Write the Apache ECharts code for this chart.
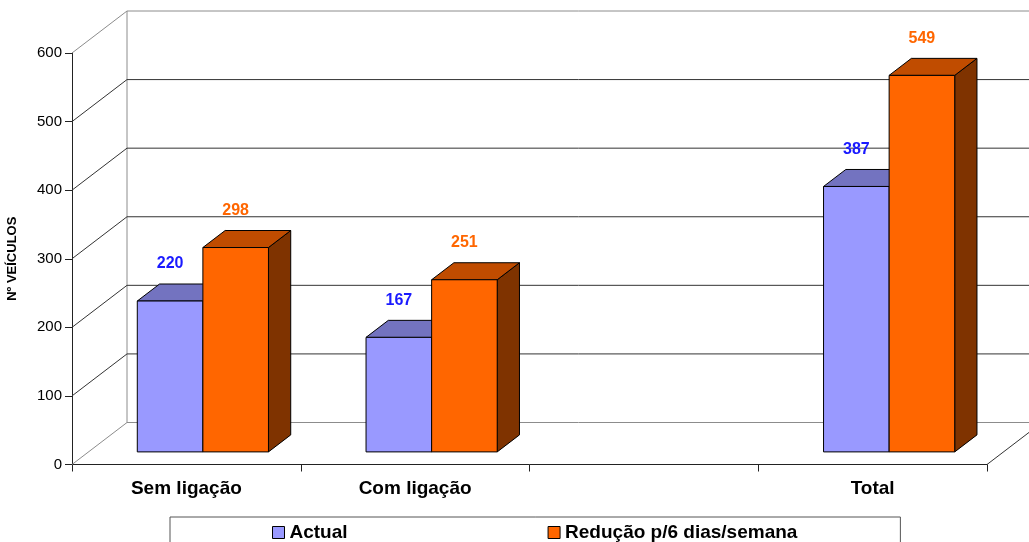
<!DOCTYPE html>
<html>
<head>
<meta charset="utf-8">
<script src="https://cdn.jsdelivr.net/npm/echarts@6/dist/echarts.min.js"></script>
<style>
  html, body { margin: 0; padding: 0; background: #fff; }
  #chart { width: 1029px; height: 542px; }
</style>
</head>
<body>
<div id="chart"></div>
<script>
// Vehicle counts per scenario
const categories = ['Sem ligação', 'Com ligação', '', 'Total'];
const actual = [220, 167, null, 387];
const reducao = [298, 251, null, 549];
const seriesNames = ['Actual', 'Redução p/6 dias/semana'];
const yTicks = [0, 100, 200, 300, 400, 500, 600];

const FONT = '"Liberation Sans", Arial, sans-serif';

// Oblique projection of the depth axis
const DX = 55, DY = -42;       // full depth of the plot box
const F0 = 0.3;                // where the bars' front faces sit
const FD = 0.405;              // bar depth
const BAR_FRAC = 0.2867;       // bar width as a share of the band

const faces = [
  { front: '#9999FF', top: '#7373C0', side: '#4D4D80', label: '#1A1AFF' },
  { front: '#FF6600', top: '#C04C00', side: '#7F3300', label: '#FF6600' }
];

function toPairs(values) {
  const out = [];
  values.forEach((v, i) => { if (v != null) out.push([i, v]); });
  return out;
}

// Back wall, side wall and floor outlines of the 3D box
function renderWalls(params, api) {
  const v = api.value(1);
  const cs = params.coordSys;
  const y = api.coord([0, v])[1];
  const x0 = cs.x, w = cs.width;
  const edge = (v === yTicks[0] || v === yTicks[yTicks.length - 1]);
  const stroke = edge ? '#8C8C8C' : '#333333';
  const children = [{
    type: 'polyline',
    shape: { points: [[x0, y], [x0 + DX, y + DY], [x0 + w + DX, y + DY]] },
    style: { stroke: stroke, lineWidth: 1, fill: null }
  }];
  if (v === yTicks[0]) {
    const yTop = api.coord([0, yTicks[yTicks.length - 1]])[1];
    children.push({
      type: 'polyline',
      shape: { points: [[x0 + w, y], [x0 + w + DX, y + DY]] },
      style: { stroke: '#333333', lineWidth: 1, fill: null }
    });
    children.push({
      type: 'polyline',
      shape: { points: [[x0 + DX, y + DY], [x0 + DX, yTop + DY]] },
      style: { stroke: '#8C8C8C', lineWidth: 1, fill: null }
    });
  }
  return { type: 'group', children: children, silent: true };
}

// 3D bar: front, top and side faces plus value label
function makeBarRenderer(k) {
  const c = faces[k];
  return function (params, api) {
    const i = api.value(0), v = api.value(1);
    const base = api.coord([i, 0]);
    const top = api.coord([i, v]);
    const band = api.size([1, 0])[0];
    const w = band * BAR_FRAC;
    const cx = base[0] + DX * F0;
    const x1 = k === 0 ? cx - w : cx;
    const x2 = x1 + w;
    const yb = base[1] + DY * F0;
    const yt = top[1] + DY * F0;
    const dx = DX * FD, dy = DY * FD;
    const line = { stroke: '#000', lineWidth: 1 };
    return {
      type: 'group',
      children: [
        { type: 'polygon', shape: { points: [[x2, yt], [x2 + dx, yt + dy], [x2 + dx, yb + dy], [x2, yb]] },
          style: Object.assign({ fill: c.side }, line) },
        { type: 'polygon', shape: { points: [[x1, yt], [x1 + dx, yt + dy], [x2 + dx, yt + dy], [x2, yt]] },
          style: Object.assign({ fill: c.top }, line) },
        { type: 'polygon', shape: { points: [[x1, yt], [x2, yt], [x2, yb], [x1, yb]] },
          style: Object.assign({ fill: c.front }, line) },
        { type: 'text', x: (x1 + x2) / 2, y: yt - 37,
          style: { text: String(v), fill: c.label, font: 'bold 16px ' + FONT,
                   align: 'center', verticalAlign: 'middle' } }
      ]
    };
  };
}

const chart = echarts.init(document.getElementById('chart'), null, { renderer: 'canvas' });

chart.setOption({
  animation: false,
  backgroundColor: '#ffffff',
  textStyle: { fontFamily: FONT },
  grid: { left: 72, right: 42, top: 53, bottom: 77.5, containLabel: false, outerBoundsMode: 'none' },
  legend: {
    data: seriesNames,
    left: 170,
    top: 517,
    orient: 'horizontal',
    icon: 'rect',
    itemWidth: 12,
    itemHeight: 12,
    itemGap: 200,
    padding: [6, 103, 30, 102],
    borderColor: '#555',
    borderWidth: 1,
    itemStyle: { borderColor: '#000', borderWidth: 1 },
    textStyle: { fontFamily: FONT, fontSize: 19, fontWeight: 'bold', color: '#000' },
    selectedMode: false
  },
  xAxis: {
    type: 'category',
    data: categories,
    boundaryGap: true,
    axisLine: { show: true, lineStyle: { color: '#222', width: 1 } },
    axisTick: { show: true, interval: 0, length: 7, lineStyle: { color: '#222' } },
    axisLabel: { interval: 0, margin: 15, fontFamily: FONT, fontSize: 19, fontWeight: 'bold', color: '#000' },
    splitLine: { show: false }
  },
  yAxis: {
    type: 'value',
    min: yTicks[0],
    max: yTicks[yTicks.length - 1],
    interval: yTicks[1] - yTicks[0],
    name: 'Nº VEÍCULOS',
    nameLocation: 'middle',
    nameRotate: 90,
    nameGap: 53,
    nameTextStyle: { fontFamily: FONT, fontSize: 13, fontWeight: 'bold', color: '#000' },
    axisLine: { show: true, lineStyle: { color: '#222', width: 1 } },
    axisTick: { show: true, length: 7, lineStyle: { color: '#222' } },
    axisLabel: { margin: 10, fontFamily: FONT, fontSize: 15, color: '#000' },
    splitLine: { show: false }
  },
  series: [
    {
      type: 'custom',
      name: 'walls',
      z: 1,
      silent: true,
      data: yTicks.map(v => [0, v]),
      encode: { x: 0, y: 1 },
      renderItem: renderWalls
    },
    {
      type: 'custom',
      name: seriesNames[0],
      z: 2,
      itemStyle: { color: faces[0].front, borderColor: '#000', borderWidth: 1 },
      data: toPairs(actual),
      encode: { x: 0, y: 1 },
      renderItem: makeBarRenderer(0)
    },
    {
      type: 'custom',
      name: seriesNames[1],
      z: 3,
      itemStyle: { color: faces[1].front, borderColor: '#000', borderWidth: 1 },
      data: toPairs(reducao),
      encode: { x: 0, y: 1 },
      renderItem: makeBarRenderer(1)
    }
  ]
});
</script>
</body>
</html>
